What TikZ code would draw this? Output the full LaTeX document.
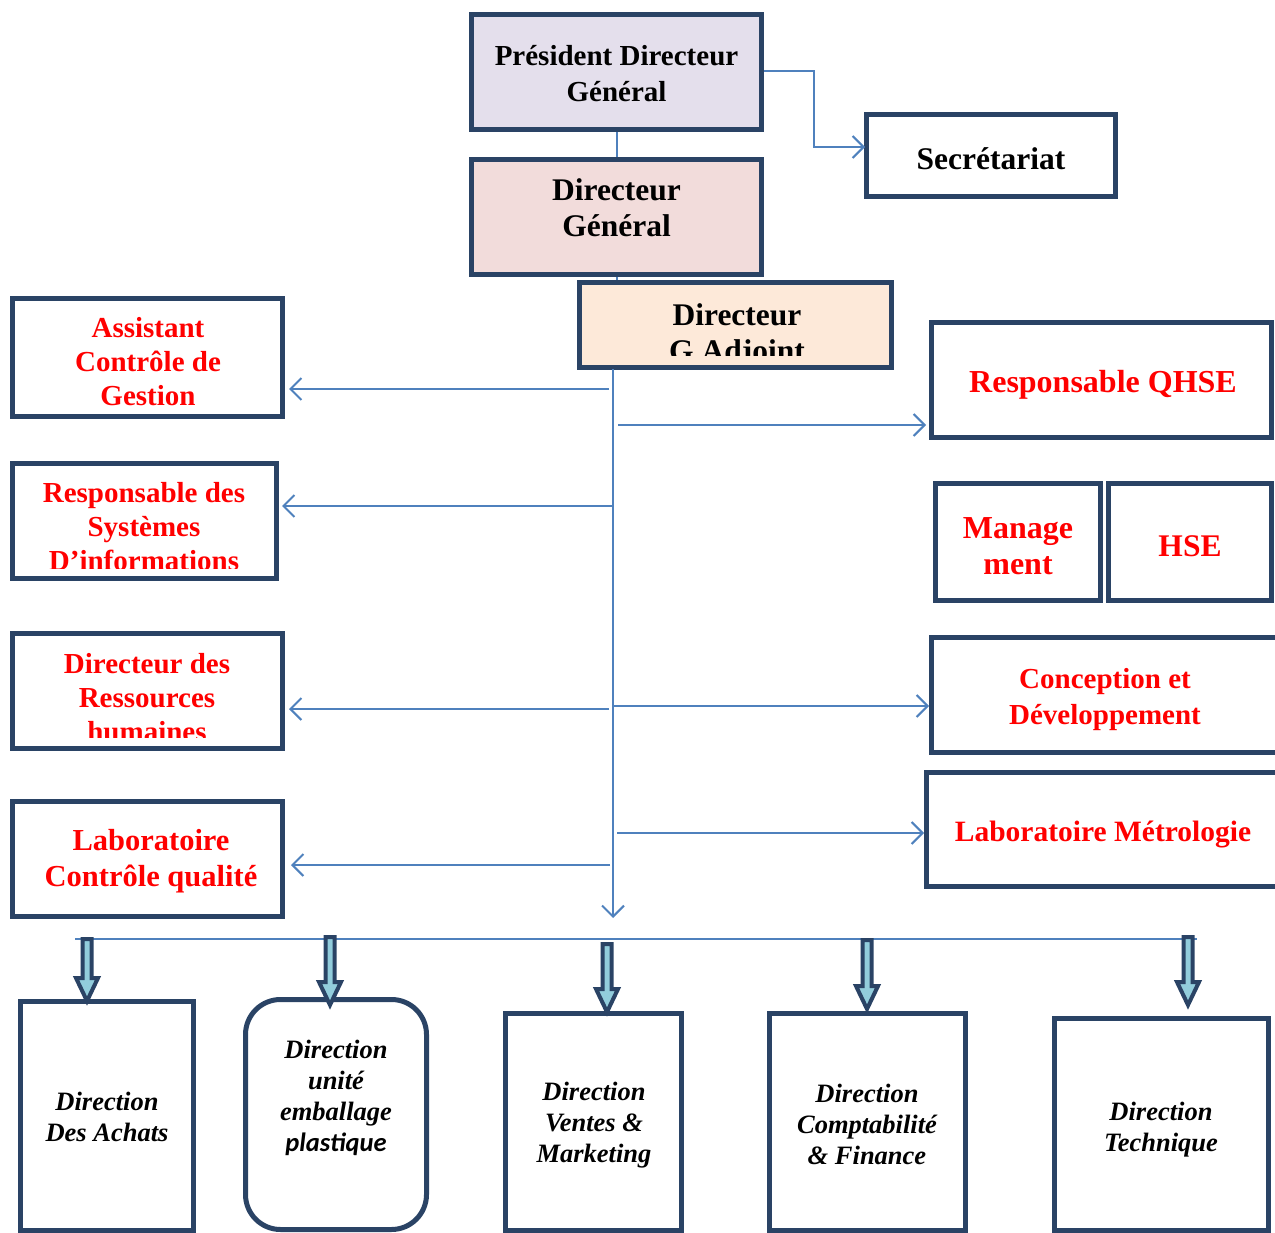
\documentclass[tikz,border=0pt]{standalone}
\usepackage{fontspec}
\setmainfont{Liberation Serif}
\newfontfamily\carlito{Carlito}
\usetikzlibrary{arrows.meta,calc}
\definecolor{navy}{HTML}{2A4365}
\definecolor{lnblue}{HTML}{4F81BD}
\definecolor{lav}{HTML}{E4DFEC}
\definecolor{rosy}{HTML}{F2DCDB}
\definecolor{peach}{HTML}{FDE9D9}
\definecolor{lblue}{HTML}{92CDDC}
\newcommand\blockarr[2]{%
  \path[blk] let \p1=(#1), \p2=(#2) in
    (\x1-4.5pt,\y1) -- (\x1-4.5pt,\y2+23pt) -- (\x1-11pt,\y2+23pt) -- (\x1,\y2)
    -- (\x1+11pt,\y2+23pt) -- (\x1+4.5pt,\y2+23pt) -- (\x1+4.5pt,\y1) -- cycle;}
\begin{document}
\begin{tikzpicture}[x=1pt,y=-1pt,
  box/.style={draw=navy,line width=5pt,fill=white,inner sep=0pt},
  bt/.style={font=\fontsize{#1}{36}\selectfont\bfseries,align=center,text=black,inner sep=0pt},
  bt/.default=29,
  rt/.style={font=\fontsize{#1}{34}\selectfont\bfseries,align=center,text=red,inner sep=0pt},
  rt/.default=29,
  rtw/.style={font=\fontsize{#1}{36}\selectfont\bfseries,align=center,text=red,inner sep=0pt},
  it/.style={font=\fontsize{26.5}{31}\selectfont\bfseries\itshape,align=center,inner sep=0pt},
  conn/.style={draw=lnblue,line width=2pt,-{Straight Barb[length=11pt,width=22pt,line width=2pt]}},
  plainln/.style={draw=lnblue,line width=2pt},
  blk/.style={draw=navy,line width=4pt,fill=lblue,line join=miter}
]
\useasboundingbox (0,0) rectangle (1275,1233);
\clip (0,0) rectangle (1275,1233);

% ---------- top boxes ----------
\node[box,fill=lav,minimum width=290pt,minimum height=115pt] (pdg) at (616.5,72) {};
\node[bt] (pdgT) at (616.5,74) {Président Directeur\\Général};

\node[box,fill=rosy,minimum width=290pt,minimum height=115pt] (dg) at (616.5,217) {};
\node[bt=31.5] (dgT) at (616.5,208) {Directeur\\Général};

\node[box,fill=peach,minimum width=312pt,minimum height=85pt] (dga) at (735.5,325) {};
\begin{scope}
  \clip (580,285) rectangle (890,356);
  \node[bt=31.5] (dgaT) at (737,336) {Directeur\\G.Adjoint};
\end{scope}

\node[box,minimum width=249pt,minimum height=82pt] (sec) at (991,155.5) {};
\node[bt=31.5] (secT) at (991,159) {Secrétariat};

% ---------- left boxes ----------
\node[box,minimum width=270pt,minimum height=118pt] (acg) at (147.5,357.5) {};
\node[rt] (acgT) at (148,362) {Assistant\\Contrôle de\\Gestion};

\node[box,minimum width=264pt,minimum height=115pt] (rsi) at (144.5,521) {};
\begin{scope}
  \clip (14,465) rectangle (275,568);
  \node[rt] (rsiT) at (144,527) {Responsable des\\Systèmes\\D’informations};
\end{scope}

\node[box,minimum width=270pt,minimum height=115pt] (drh) at (147.5,691) {};
\begin{scope}
  \clip (14,635) rectangle (281,737);
  \node[rt] (drhT) at (147,698) {Directeur des\\Ressources\\humaines};
\end{scope}

\node[box,minimum width=270pt,minimum height=115pt] (lcq) at (147.5,859) {};
\node[rtw=30.5] (lcqT) at (151,861) {Laboratoire\\Contrôle qualité};

% ---------- right boxes ----------
\node[box,minimum width=340pt,minimum height=115pt] (qhse) at (1101.5,380) {};
\node[rt=32] (qhseT) at (1103,385) {Responsable QHSE};

\node[box,minimum width=165pt,minimum height=117pt] (mgt) at (1018,542) {};
\node[rtw=32] (mgtT) at (1018,546) {Manage\\ment};
\node[box,minimum width=163pt,minimum height=117pt] (hse) at (1190,542) {};
\node[rt=31.5] (hseT) at (1190,546) {HSE};

\node[box,minimum width=357pt,minimum height=115pt] (cd) at (1110,695) {};
\node[rtw=29] (cdT) at (1105,700) {Conception et\\Développement};

\node[box,minimum width=362pt,minimum height=114pt] (lm) at (1107.5,829.5) {};
\node[rt=29.5] (lmT) at (1103,835) {Laboratoire Métrologie};

% ---------- bottom boxes ----------
\node[box,minimum width=173pt,minimum height=229pt] (ach) at (107,1116) {};
\node[it] (achT) at (107,1117) {Direction\\Des Achats};

\node[box,rounded corners=35pt,minimum width=181pt,minimum height=230pt] (emb) at (336,1114.5) {};
\node[it] (embT) at (336,1098) {Direction\\unité\\emballage\\{\carlito plastique}};

\node[box,minimum width=176pt,minimum height=217pt] (ven) at (593.5,1122) {};
\node[it] (venT) at (594,1125) {Direction\\Ventes \&\\Marketing};

\node[box,minimum width=196pt,minimum height=217pt] (cpt) at (867.5,1122) {};
\node[it] (cptT) at (867,1124) {Direction\\Comptabilité\\\& Finance};

\node[box,minimum width=214pt,minimum height=212pt] (tec) at (1161.5,1124.5) {};
\node[it] (tecT) at (1161,1130) {Direction\\Technique};

% ---------- connectors ----------
\coordinate (secK) at (814,71);
\coordinate (secIn) at (862,147);
\draw[conn,shorten >=-1pt] (pdg.east |- secK) -- (secK) |- (sec.west |- secIn);
\draw[plainln] (pdg.south) -- (dg.north);
\draw[plainln] (dg.south) -- (dg.south |- dga.north);

\coordinate (trTop) at (613,369);
\coordinate (trEnd) at (613,918);
\draw[conn] (trTop) -- (trEnd);

\coordinate (jA) at (609,389);
\coordinate (jB) at (613,506);
\coordinate (jC) at (609,709);
\coordinate (jD) at (610,865);
\draw[conn,shorten >=4pt] (jA) -- (jA -| acg.east);
\draw[conn,shorten >=3pt] (jB) -- (jB -| rsi.east);
\draw[conn,shorten >=4pt] (jC) -- (jC -| drh.east);
\draw[conn,shorten >=6pt] (jD) -- (jD -| lcq.east);

\coordinate (kA) at (618,425);
\coordinate (kB) at (613,706);
\coordinate (kC) at (617,833);
\draw[conn,shorten >=3pt] (kA) -- (kA -| qhse.west);
\draw[conn] (kB) -- (kB -| cd.west);
\draw[conn] (kC) -- (kC -| lm.west);

% ---------- bus and block arrows ----------
\coordinate (busL) at (75,939);
\coordinate (busR) at (1197,939);
\draw[plainln] (busL) -- (busR);

\coordinate (b1) at (87,939);   \coordinate (t1) at (87,1001);
\coordinate (b2) at (330,937);  \coordinate (t2) at (330,1005);
\coordinate (b3) at (607,944);  \coordinate (t3) at (607,1012);
\coordinate (b4) at (867,940);  \coordinate (t4) at (867,1009);
\coordinate (b5) at (1188,937); \coordinate (t5) at (1188,1005);
\blockarr{b1}{t1}
\blockarr{b2}{t2}
\blockarr{b3}{t3}
\blockarr{b4}{t4}
\blockarr{b5}{t5}
\end{tikzpicture}
\end{document}
